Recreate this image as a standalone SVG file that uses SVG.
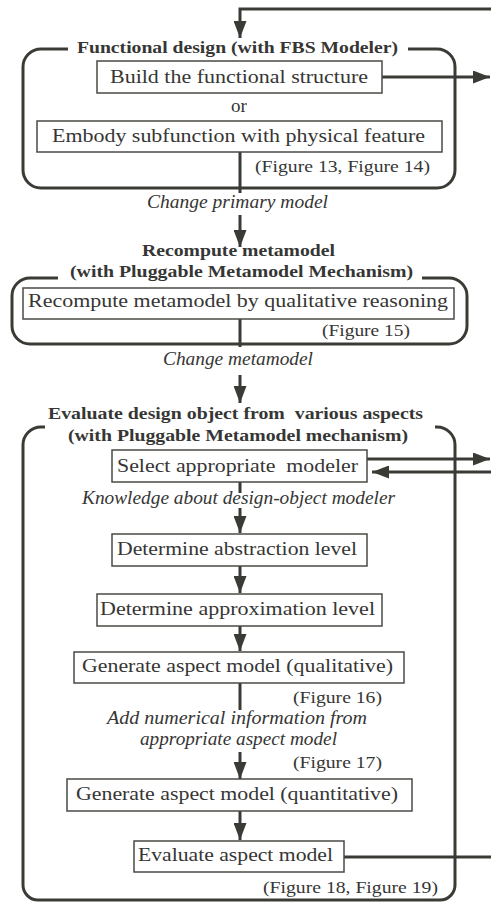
<svg xmlns="http://www.w3.org/2000/svg" width="491" height="903" viewBox="0 0 491 903">
  <style>
    .frame { fill: none; stroke: #3b3b36; stroke-width: 3; stroke-linecap: butt; }
    .box { fill: #ffffff; stroke: #4a4a46; stroke-width: 1.5; }
    .wire { fill: none; stroke: #3b3b36; stroke-width: 3; }
    .t { font-family: "Liberation Serif", "Times New Roman", serif; fill: #363634; }
    .body { font-size: 19px; }
    .head { font-size: 17.5px; font-weight: bold; }
    .note { font-size: 18.5px; font-style: italic; }
    .ref { font-size: 16.5px; }
  </style>
  <defs>
    <marker id="arrow" markerUnits="userSpaceOnUse" markerWidth="18" markerHeight="13" refX="17" refY="6.5" orient="auto">
      <path d="M0,0 L17,6.5 L0,13 Z" fill="#3b3b36"/>
    </marker>
  </defs>

  <!-- connectors -->
  <g id="connectors">
    <path class="wire" d="M491,9 H240 V38" marker-end="url(#arrow)"/>
    <path class="wire" d="M382,77 H490" marker-end="url(#arrow)"/>
    <path class="wire" d="M240,152 V193"/>
    <path class="wire" d="M240,215 V247" marker-end="url(#arrow)"/>
    <path class="wire" d="M240,319 V347"/>
    <path class="wire" d="M240,375 V403" marker-end="url(#arrow)"/>
    <path class="wire" d="M367,459 H490" marker-end="url(#arrow)"/>
    <path class="wire" d="M491,472 H372" marker-end="url(#arrow)"/>
    <path class="wire" d="M240,482 V493"/>
    <path class="wire" d="M240,508 V533" marker-end="url(#arrow)"/>
    <path class="wire" d="M240,566 V593" marker-end="url(#arrow)"/>
    <path class="wire" d="M240,626 V651" marker-end="url(#arrow)"/>
    <path class="wire" d="M240,683 V710"/>
    <path class="wire" d="M240,752 V779" marker-end="url(#arrow)"/>
    <path class="wire" d="M240,811 V840" marker-end="url(#arrow)"/>
    <path class="wire" d="M344,857 H491"/>
  </g>

  <!-- functional design stage -->
  <g id="stage-functional">
    <path class="frame" d="M68,49 H41 A18,18 0 0 0 23,67 V170 A18,18 0 0 0 41,188 H437 A18,18 0 0 0 455,170 V67 A18,18 0 0 0 437,49 H408"/>
    <text class="t head" x="77" y="53" textLength="321" lengthAdjust="spacingAndGlyphs">Functional design (with FBS Modeler)</text>
    <text class="t ref" x="255" y="172" textLength="175" lengthAdjust="spacingAndGlyphs">(Figure 13, Figure 14)</text>
  </g>
  <g id="build-structure">
    <rect class="box" x="97" y="61" width="285" height="32"/>
    <text class="t body" x="110" y="83" textLength="258" lengthAdjust="spacingAndGlyphs">Build the functional structure</text>
  </g>
  <g id="or-label">
    <text class="t body" x="239" y="112" text-anchor="middle">or</text>
  </g>
  <g id="embody-subfunction">
    <rect class="box" x="37" y="121" width="405" height="31"/>
    <text class="t body" x="52" y="142" textLength="373" lengthAdjust="spacingAndGlyphs">Embody subfunction with physical feature</text>
  </g>
  <g id="label-change-primary">
    <text class="t note" x="147" y="208" textLength="181" lengthAdjust="spacingAndGlyphs">Change primary model</text>
  </g>

  <!-- metamodel recomputation stage -->
  <g id="stage-recompute">
    <text class="t head" x="142" y="256" textLength="193" lengthAdjust="spacingAndGlyphs">Recompute metamodel</text>
    <text class="t head" x="70" y="277" textLength="343" lengthAdjust="spacingAndGlyphs">(with Pluggable Metamodel Mechanism)</text>
    <path class="frame" d="M58,278 H30 A18,18 0 0 0 12,296 V326 A18,18 0 0 0 30,344 H449 A18,18 0 0 0 467,326 V296 A18,18 0 0 0 449,278 H422"/>
    <text class="t ref" x="322" y="336" textLength="88" lengthAdjust="spacingAndGlyphs">(Figure 15)</text>
  </g>
  <g id="recompute-qualitative">
    <rect class="box" x="23" y="288" width="431" height="31"/>
    <text class="t body" x="28" y="307" textLength="420" lengthAdjust="spacingAndGlyphs">Recompute metamodel by qualitative reasoning</text>
  </g>
  <g id="label-change-metamodel">
    <text class="t note" x="163" y="365" textLength="150" lengthAdjust="spacingAndGlyphs">Change metamodel</text>
  </g>

  <!-- evaluation stage -->
  <g id="stage-evaluate">
    <text class="t head" x="48" y="419" textLength="375" lengthAdjust="spacingAndGlyphs">Evaluate design object from&#160; various aspects</text>
    <text class="t head" x="68" y="441" textLength="340" lengthAdjust="spacingAndGlyphs">(with Pluggable Metamodel mechanism)</text>
    <path class="frame" d="M45,427 H41 A18,18 0 0 0 23,445 V885 A15,15 0 0 0 38,900 H440 A15,15 0 0 0 455,885 V445 A18,18 0 0 0 437,427 H435"/>
    <text class="t ref" x="293" y="703" textLength="89" lengthAdjust="spacingAndGlyphs">(Figure 16)</text>
    <text class="t ref" x="293" y="768" textLength="89" lengthAdjust="spacingAndGlyphs">(Figure 17)</text>
    <text class="t ref" x="263" y="893" textLength="175" lengthAdjust="spacingAndGlyphs">(Figure 18, Figure 19)</text>
  </g>
  <g id="select-modeler">
    <rect class="box" x="112" y="450" width="255" height="32"/>
    <text class="t body" x="117" y="472" textLength="241" lengthAdjust="spacingAndGlyphs">Select appropriate&#160; modeler</text>
  </g>
  <g id="label-knowledge">
    <text class="t note" x="82" y="504" textLength="313" lengthAdjust="spacingAndGlyphs">Knowledge about design-object modeler</text>
  </g>
  <g id="abstraction-level">
    <rect class="box" x="112" y="534" width="255" height="32"/>
    <text class="t body" x="117" y="555" textLength="240" lengthAdjust="spacingAndGlyphs">Determine abstraction level</text>
  </g>
  <g id="approximation-level">
    <rect class="box" x="97" y="594" width="285" height="32"/>
    <text class="t body" x="100" y="615" textLength="275" lengthAdjust="spacingAndGlyphs">Determine approximation level</text>
  </g>
  <g id="aspect-qualitative">
    <rect class="box" x="74" y="652" width="330" height="31"/>
    <text class="t body" x="82" y="672" textLength="311" lengthAdjust="spacingAndGlyphs">Generate aspect model (qualitative)</text>
  </g>
  <g id="label-numerical">
    <text class="t note" x="107" y="724" textLength="260" lengthAdjust="spacingAndGlyphs">Add numerical information from</text>
    <text class="t note" x="140" y="745" textLength="197" lengthAdjust="spacingAndGlyphs">appropriate aspect model</text>
  </g>
  <g id="aspect-quantitative">
    <rect class="box" x="67" y="779" width="345" height="32"/>
    <text class="t body" x="76" y="800" textLength="322" lengthAdjust="spacingAndGlyphs">Generate aspect model (quantitative)</text>
  </g>
  <g id="evaluate-aspect">
    <rect class="box" x="134" y="841" width="210" height="31"/>
    <text class="t body" x="138" y="861" textLength="195" lengthAdjust="spacingAndGlyphs">Evaluate aspect model</text>
  </g>
</svg>
